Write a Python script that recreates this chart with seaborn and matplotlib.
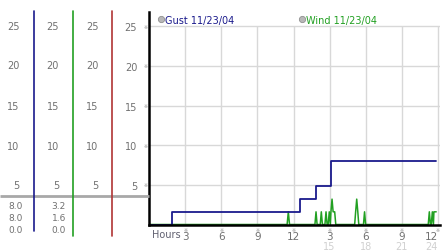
import matplotlib
matplotlib.use("Agg")
import matplotlib.pyplot as plt
import matplotlib.transforms as mtransforms
import seaborn as sns
import pandas as pd

# ---------------- data ----------------
gust_hours = [0, 1.94, 12.57, 13.87, 15.09, 23.8]
gust_values = [0, 1.6, 3.2, 4.8, 8.0, 8.0]

wind_hours = [0, 11.47, 11.57, 11.67,
              13.78, 13.87, 13.96, 14.22, 14.31, 14.40, 14.61, 14.70, 14.79,
              14.88, 14.97, 15.06, 15.11, 15.2, 15.29, 15.33, 15.42, 15.51,
              17.08, 17.16, 17.25, 17.34, 17.42, 17.81, 17.9, 17.99,
              23.19, 23.28, 23.37, 23.44, 23.53, 23.62, 23.66, 23.75, 23.85]
wind_values = [0, 0, 1.6, 0,
               0, 1.6, 0, 0, 1.6, 0, 0, 1.6, 0,
               0, 1.6, 0, 1.6, 3.2, 1.6, 1.6, 1.6, 0,
               0, 1.6, 3.2, 1.6, 0, 0, 1.6, 0,
               0, 1.6, 0, 0, 1.6, 0, 1.6, 1.6, 1.6]

y_ticks = [5, 10, 15, 20, 25]
x_ticks = [3, 6, 9, 12, 15, 18, 21, 24]
x_labels = ["3", "6", "9", "12", "3", "6", "9", "12"]
x_labels2 = ["15", "18", "21", "24"]
legend_labels = ["Gust 11/23/04", "Wind 11/23/04"]
gust_stats = ["8.0", "8.0", "0.0"]
wind_stats = ["3.2", "1.6", "0.0"]

GUST_C = "#1a1a8c"
WIND_C = "#22a022"
RED_C = "#b03535"
GRID_C = "#d8d8d8"
TXT_C = "#707070"
FS = 7

sns.set_theme(style="white")
plt.rcParams["font.family"] = ["DejaVu Sans"]

W, H = 442, 253
fig = plt.figure(figsize=(W / 100, H / 100), dpi=100)
fig.patch.set_facecolor("white")

def px(x0, y0, x1, y1):
    return [x0 / W, 1 - y1 / H, (x1 - x0) / W, (y1 - y0) / H]

# main axes: x 0..24 -> px 149..438 ; y 0 -> 225.5, 26.8 -> 13
xmax = 24.15
ax = fig.add_axes(px(149, 13, 149 + xmax * (438 - 149) / 24, 225.5))
ax.set_facecolor("none")
ax.set_xlim(0, xmax)
ax.set_ylim(0, 26.8)

# grid (only up to 25)
ax.vlines(x_ticks, 0, 25, color=GRID_C, lw=1, zorder=0)
ax.hlines(y_ticks, 0, xmax, color=GRID_C, lw=1, zorder=0)

gust_df = pd.DataFrame({"h": gust_hours, "v": gust_values})
wind_df = pd.DataFrame({"h": wind_hours, "v": wind_values})
sns.lineplot(data=wind_df, x="h", y="v", ax=ax, color=WIND_C, lw=1.1,
             estimator=None, sort=False, zorder=3)
sns.lineplot(data=gust_df, x="h", y="v", ax=ax, color=GUST_C, lw=1.3,
             estimator=None, sort=False, drawstyle="steps-post", zorder=4)
ax.set_xlabel("")
ax.set_ylabel("")

for s in ["top", "right"]:
    ax.spines[s].set_visible(False)
for s in ["left", "bottom"]:
    ax.spines[s].set_color("black")
    ax.spines[s].set_linewidth(1.8)
    ax.spines[s].set_zorder(5)

ax.set_yticks(y_ticks)
ax.set_yticklabels([str(v) for v in y_ticks])
ax.tick_params(axis="y", length=0, pad=8.5, labelsize=FS, labelcolor=TXT_C)
ax.set_xticks(x_ticks)
ax.set_xticklabels(x_labels)
ax.tick_params(axis="x", length=0, pad=5, labelsize=FS + 0.5, labelcolor=TXT_C)
ax.get_xticklabels()[-1].set_ha("right")

# small marks next to tick labels
ty = mtransforms.blended_transform_factory(ax.transAxes, ax.transData)
for v in y_ticks:
    ax.text(-0.013, v, "\u203b", transform=ty, fontsize=3.5, color="#909090",
            ha="center", va="center", clip_on=False)
tx = mtransforms.blended_transform_factory(ax.transData, ax.transAxes)
for v in x_ticks:
    ax.text(v, -0.012, "\u203b", transform=tx, fontsize=3.5, color="#909090",
            ha="center", va="top", clip_on=False)
for i, (v, lab) in enumerate(zip(x_ticks[4:], x_labels2)):
    ax.text(v, -0.08, lab, transform=tx, fontsize=FS, color="#d0d0d0",
            ha="right" if i == 3 else "center", va="top", clip_on=False)
ax.text(0.012, -0.02, "Hours", transform=ax.transAxes, fontsize=FS,
        color="#606070", ha="left", va="top", clip_on=False)

# ---------------- decorations (pixel overlay) ----------------
deco = fig.add_axes([0, 0, 1, 1], zorder=10)
deco.set_xlim(0, W)
deco.set_ylim(H, 0)
deco.axis("off")
deco.patch.set_alpha(0)

# legend
for (cx, label, col) in [(161, legend_labels[0], GUST_C), (302, legend_labels[1], WIND_C)]:
    deco.plot([cx], [20], "o", ms=4.5, mfc="#b8b8b8", mec="#909090", mew=0.6)
    deco.text(cx + 4, 20.5, label, fontsize=FS, color=col, ha="left", va="center")

# left panel lines
deco.plot([0, 149], [197, 197], color="#a8a8a8", lw=2, solid_capstyle="butt")
deco.plot([33.5, 33.5], [12, 232], color=GUST_C, lw=1.2)
deco.plot([72.5, 72.5], [12, 237], color=WIND_C, lw=1.2)
deco.plot([111.5, 111.5], [12, 237], color=RED_C, lw=1.2)

ypix = {25: 27, 20: 66, 15: 107, 10: 146.5, 5: 186}
for v in y_ticks:
    for xr in (19.5, 59, 98.5):
        deco.text(xr, ypix[v], str(v), fontsize=FS, color=TXT_C,
                  ha="right", va="center")

for i, (g, w) in enumerate(zip(gust_stats, wind_stats)):
    yy = 206.5 + i * 11.8
    deco.text(23, yy, g, fontsize=FS - 0.5, color=TXT_C, ha="right", va="center")
    deco.text(66, yy, w, fontsize=FS - 0.5, color=TXT_C, ha="right", va="center")

fig.savefig("out.png", dpi=100)
